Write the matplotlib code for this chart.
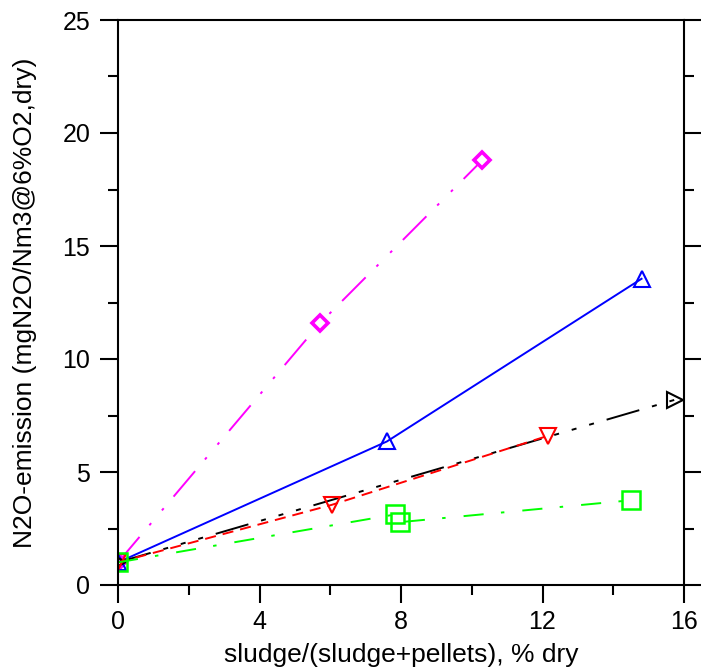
import matplotlib
matplotlib.use('Agg')
import matplotlib.pyplot as plt
from matplotlib.ticker import MultipleLocator

plt.rcParams['font.family'] = ['Liberation Sans', 'DejaVu Sans']
plt.rcParams['lines.scale_dashes'] = False

# data
x_magenta = [0, 5.72, 10.3]
y_magenta = [1.0, 11.6, 18.8]
x_blue = [0, 7.6, 14.8]
y_blue = [1.0, 6.35, 13.55]
x_black = [0, 15.75]
y_black = [1.0, 8.2]
x_red = [0, 6.05, 12.15]
y_red = [1.0, 3.55, 6.6]
x_green = [0, 7.83, 7.97, 14.5]
y_green = [1.0, 3.12, 2.78, 3.75]

fig = plt.figure(figsize=(7.01, 6.69), dpi=100)
ax = fig.add_axes([118/701, 1-585/669, 566/701, 565/669])

lw = 1.4
ax.plot(x_magenta, y_magenta, color='#ff00ff', lw=lw, dashes=(24, 11, 2, 12, 2, 11),
        marker='D', ms=8.5, mfc='white', mec='#ff00ff', mew=2.6)
ax.plot(x_blue, y_blue, color='#0000ff', lw=lw, ls='-',
        marker='^', ms=12, mfc='none', mec='#0000ff', mew=1.5)
ax.plot(x_black, y_black, color='black', lw=lw,
        dashes=(24.5, 9.5, 3.6, 9.5, 3.6, 9.5, 3.6, 9.5),
        marker='>', ms=12, mfc='none', mec='black', mew=1.5)
ax.plot(x_red, y_red, color='#ff0000', lw=lw, dashes=(8, 5),
        marker='v', ms=12, mfc='none', mec='#ff0000', mew=1.5)
ax.plot(x_green, y_green, color='#00ff00', lw=lw, dashes=(14.5, 12.5, 2.5, 13),
        marker='s', ms=13.5, mfc='none', mec='#00ff00', mew=1.8)

ax.set_xlim(0, 16)
ax.set_ylim(0, 25)
ax.xaxis.set_major_locator(MultipleLocator(4))
ax.xaxis.set_minor_locator(MultipleLocator(2))
ax.yaxis.set_major_locator(MultipleLocator(5))
ax.yaxis.set_minor_locator(MultipleLocator(2.5))

ax.tick_params(which='both', direction='out', width=1.5, top=False, right=True,
               labelsize=18, colors='black')
ax.tick_params(which='major', length=13)
ax.tick_params(axis='x', which='major', pad=5)
ax.tick_params(axis='y', which='major', pad=7)
ax.tick_params(which='minor', length=7)
for s in ax.spines.values():
    s.set_linewidth(1.5)

ax.set_xlabel('sludge/(sludge+pellets), % dry', fontsize=19)
ax.set_ylabel('N2O-emission (mgN2O/Nm3@6%O2,dry)', fontsize=19)
ax.xaxis.set_label_coords(0.5, -0.103)
ax.yaxis.set_label_coords(-0.143, 0.5)

fig.savefig('out.png', dpi=100)
